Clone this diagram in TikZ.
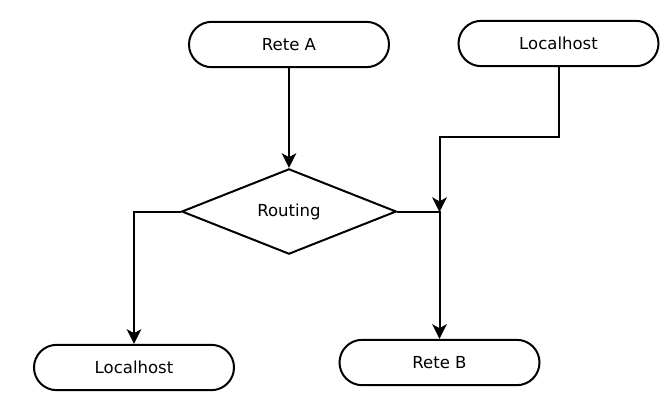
\documentclass[tikz,border=0pt]{standalone}
\usepackage{fontspec}
\setmainfont{DejaVu Sans}
\usetikzlibrary{shapes.geometric,arrows.meta}

\tikzset{
  term/.style={draw, line width=1.5pt, rectangle, rounded corners=17pt, minimum width=150pt,
    minimum height=34pt, font=\fontsize{12.4}{14}\selectfont},
  choice/.style={draw, line width=1.5pt, diamond, inner sep=0pt, minimum width=161pt,
    minimum height=64pt, font=\fontsize{12.4}{14}\selectfont},
  arr/.style={line width=1.5pt, -{Stealth[length=11pt, width=11pt, inset=3pt]}}
}

\begin{document}
\begin{tikzpicture}[x=0.75pt, y=-0.75pt]
	\useasboundingbox (0,0) rectangle (672,405);

	\node[term] (reteA) at (289,44.5) {Rete A}; \node[term] (lhA) at
        (558.5,43.5) {Localhost}; \node[choice] (routing) at (289,211.5)
        {Routing};
	\node[term] (lhB) at (134,367.5) {Localhost}; \node[term] (reteB) at
        (439.5,362.5) {Rete B};
	\coordinate (join) at (439.5,212);

	\draw[arr] (reteA.south) -- (routing.north); \draw[arr] (lhA.south) --
        ++(0,70) -| (join);
	\draw[arr] (routing.east) -| (reteB.north); \draw[arr] (routing.west) -|
        (lhB.north);
      \end{tikzpicture}
\end{document}
